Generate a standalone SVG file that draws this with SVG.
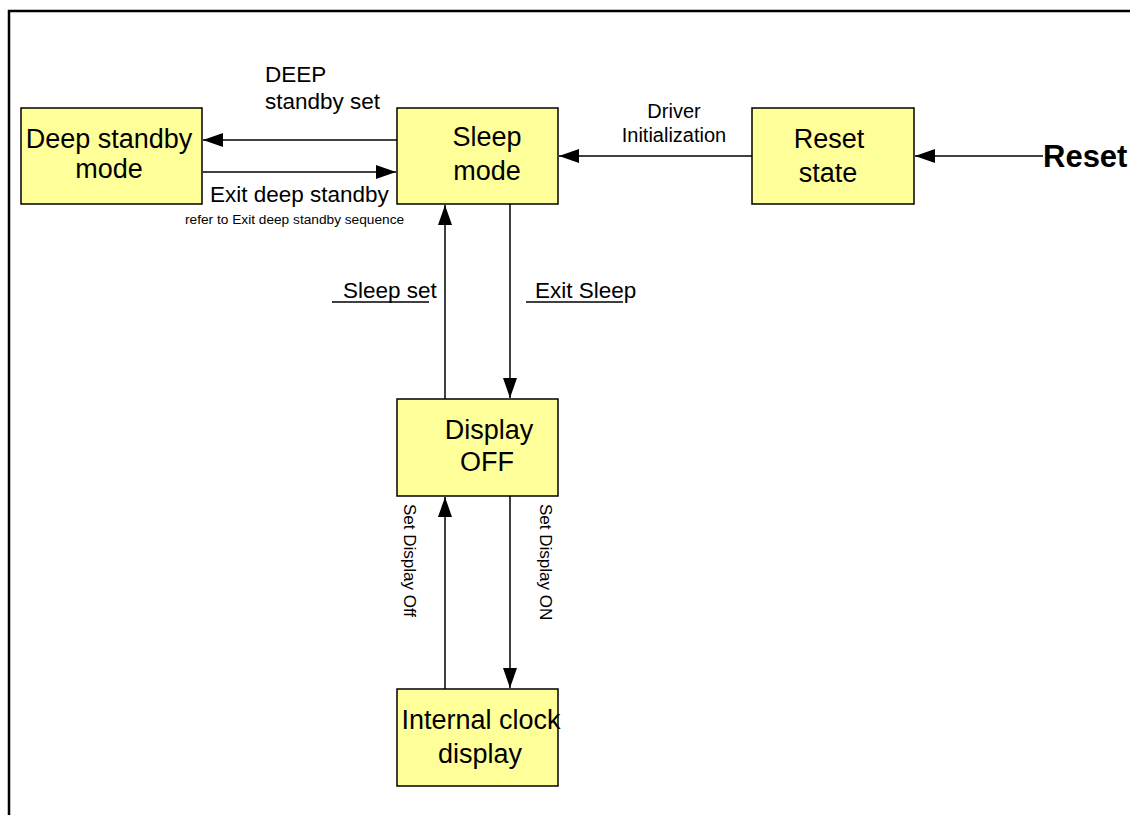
<svg xmlns="http://www.w3.org/2000/svg" width="1130" height="815" viewBox="0 0 1130 815">
<style>
.box{fill:#FFFF99;stroke:#000;stroke-width:1.5}
.lbl{font-family:"Liberation Sans",Arial,sans-serif;font-size:27px;fill:#000;text-anchor:middle}
.el{font-family:"Liberation Sans",Arial,sans-serif;font-size:22.5px;fill:#000}
.sm{font-family:"Liberation Sans",Arial,sans-serif;font-size:13.7px;fill:#000}
.vl{font-family:"Liberation Sans",Arial,sans-serif;font-size:17px;fill:#000}
.c{stroke:#000;stroke-width:1.5;fill:none;marker-end:url(#ah)}
.ul{stroke:#000;stroke-width:1.5}
</style>
<defs>
<marker id="ah" markerUnits="userSpaceOnUse" markerWidth="20" markerHeight="14" refX="20" refY="7" orient="auto">
<path d="M0,0 L20,7 L0,14 z" fill="#000"/>
</marker>
</defs>
<rect width="1130" height="815" fill="#fff"/>
<path d="M9,815 V11 H1130" fill="none" stroke="#000" stroke-width="2.5"/>

<g id="connectors">
<line class="c" x1="397" y1="140" x2="203" y2="140"/>
<line class="c" x1="203" y1="172" x2="396" y2="172"/>
<line class="c" x1="752" y1="156" x2="559" y2="156"/>
<line class="c" x1="1043" y1="156" x2="915" y2="156"/>
<line class="c" x1="445" y1="399" x2="445" y2="205"/>
<line class="c" x1="510" y1="204" x2="510" y2="398"/>
<line class="c" x1="445" y1="689" x2="445" y2="497"/>
<line class="c" x1="510" y1="496" x2="510" y2="688"/>
</g>

<g id="labels">
<text class="el" x="265" y="82">DEEP</text>
<text class="el" x="265" y="109">standby set</text>
<text class="el" x="210" y="202">Exit deep standby</text>
<text class="sm" x="185" y="224">refer to Exit deep standby sequence</text>
<text class="el" x="674" y="118" style="font-size:20px;text-anchor:middle">Driver</text>
<text class="el" x="674" y="142" style="font-size:20px;text-anchor:middle">Initialization</text>
<text class="el" x="1043" y="167" style="font-size:31px;font-weight:bold">Reset</text>
<text class="el" x="343" y="298">Sleep set</text>
<line class="ul" x1="332" y1="302" x2="429" y2="302"/>
<text class="el" x="535" y="298">Exit Sleep</text>
<line class="ul" x1="526" y1="302" x2="623" y2="302"/>
<text class="vl" transform="translate(404,504) rotate(90)">Set Display Off</text>
<text class="vl" transform="translate(540,504) rotate(90)">Set Display ON</text>
</g>

<g id="deep-standby">
<rect class="box" x="21" y="108" width="181" height="96"/>
<text class="lbl" x="109" y="148">Deep standby</text>
<text class="lbl" x="109" y="178">mode</text>
</g>
<g id="sleep-mode">
<rect class="box" x="397" y="108" width="161" height="96"/>
<text class="lbl" x="487" y="146">Sleep</text>
<text class="lbl" x="487" y="180">mode</text>
</g>
<g id="reset-state">
<rect class="box" x="752" y="108" width="162" height="96"/>
<text class="lbl" x="829" y="148">Reset</text>
<text class="lbl" x="828" y="182">state</text>
</g>
<g id="display-off">
<rect class="box" x="397" y="399" width="161" height="97"/>
<text class="lbl" x="489" y="439">Display</text>
<text class="lbl" x="487" y="471">OFF</text>
</g>
<g id="internal-clock">
<rect class="box" x="397" y="689" width="161" height="97"/>
<text class="lbl" x="481" y="729">Internal clock</text>
<text class="lbl" x="480" y="763">display</text>
</g>
</svg>
